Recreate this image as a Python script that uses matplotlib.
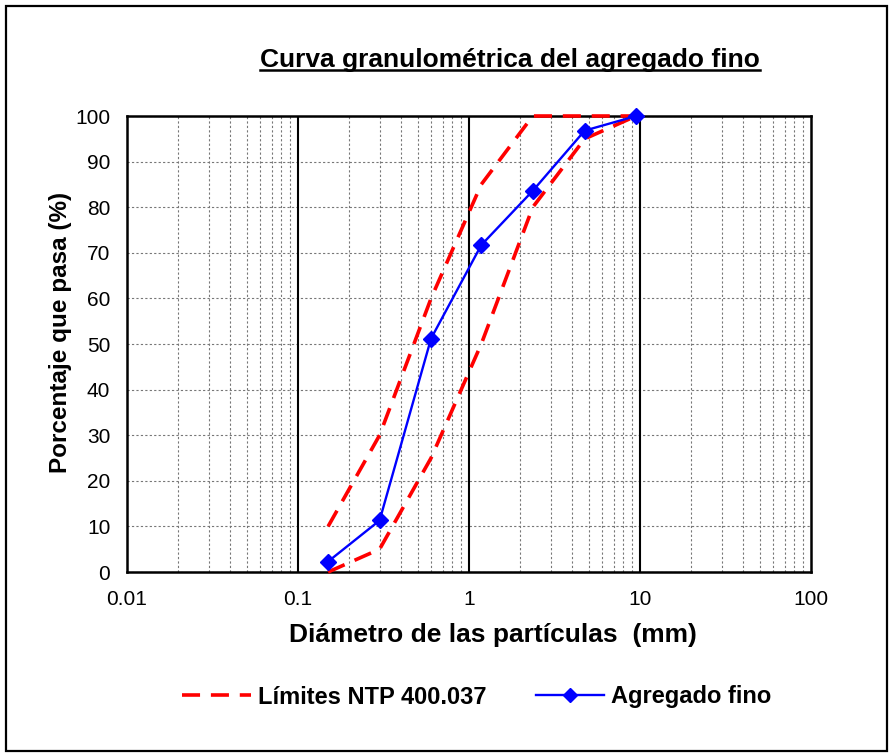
import matplotlib
matplotlib.use("Agg")
import matplotlib.pyplot as plt
from matplotlib.ticker import FixedLocator, LogLocator, NullFormatter
import numpy as np

plt.rcParams["font.family"] = ["Liberation Sans", "DejaVu Sans"]

# ---------- data ----------
sieve_mm = [0.15, 0.3, 0.6, 1.18, 2.36, 4.75, 9.5]
limite_inf = [0, 5, 25, 50, 80, 95, 100]
limite_sup = [10, 30, 60, 85, 100, 100, 100]
agregado = [2.3, 11.3, 51.2, 71.7, 83.6, 96.8, 100]

x_ticks = [0.01, 0.1, 1, 10, 100]
x_ticklabels = ["0.01", "0.1", "1", "10", "100"]
y_ticks = list(range(0, 101, 10))

RED = "#FF0000"; BLUE = "#0000FF"

fig = plt.figure(figsize=(8.91, 7.53), dpi=100)
ax = fig.add_axes([127/891, 1 - 572/753, (811-127)/891, (572-116)/753])

ax.set_xscale("log")
ax.set_xlim(0.01, 100)
ax.set_ylim(0, 100)

# grid: minor verticals + horizontal dashed gray, decades solid black
ax.xaxis.set_minor_locator(LogLocator(base=10, subs=np.arange(2, 10)))
ax.xaxis.set_minor_formatter(NullFormatter())
ax.grid(which="minor", axis="x", color="#777777", linestyle=(0, (2, 2)), linewidth=0.8)
ax.grid(which="major", axis="y", color="#777777", linestyle=(0, (2, 2)), linewidth=0.8)
for xv in x_ticks[1:-1]:
    ax.axvline(xv, color="black", linewidth=1.5, zorder=1)
ax.set_axisbelow(True)

l1, = ax.plot(sieve_mm, limite_sup, color=RED, linestyle=(0, (5, 3)), linewidth=2.6,
              label="Límites NTP 400.037", zorder=3, clip_on=False)
ax.plot(sieve_mm, limite_inf, color=RED, linestyle=(0, (5, 3)), linewidth=2.6, zorder=3,
        clip_on=False)
l2, = ax.plot(sieve_mm, agregado, color=BLUE, linewidth=1.7, marker="D", markersize=8.5,
              label="Agregado fino", zorder=4, clip_on=False)

ax.xaxis.set_major_locator(FixedLocator(x_ticks))
ax.set_xticklabels(x_ticklabels)
ax.set_yticks(y_ticks)
ax.tick_params(axis="both", which="both", length=0, labelsize=15)
ax.tick_params(axis="y", pad=12)
ax.tick_params(axis="x", pad=13)
for s in ax.spines.values():
    s.set_linewidth(1.8)

ax.set_xlabel("Diámetro de las partículas  (mm)", fontsize=19, fontweight="bold")
ax.xaxis.set_label_coords((493 - 127) / 684, -0.112)
ax.set_ylabel("Porcentaje que pasa (%)", fontsize=17.5, fontweight="bold")
ax.yaxis.set_label_coords(-0.08, 0.526)

# title with underline
title = fig.text(510/891, 1 - 60/753, "Curva granulométrica del agregado fino",
                 ha="center", va="center", fontsize=19, fontweight="bold")
fig.canvas.draw()
bb = title.get_window_extent(renderer=fig.canvas.get_renderer())
bb = bb.transformed(fig.transFigure.inverted())
fig.add_artist(plt.Line2D([bb.x0, bb.x1], [bb.y0 + 0.002, bb.y0 + 0.002],
                          transform=fig.transFigure, color="black", linewidth=1.8))

leg = fig.legend(handles=[l1, l2], loc="center", bbox_to_anchor=(477/891, 1 - 697/753),
                 ncol=2, frameon=False, handlelength=2.9, columnspacing=2.1,
                 prop={"size": 17, "weight": "bold"}, handletextpad=0.3)
for h in leg.legend_handles:
    if h.get_marker() == "D":
        h.set_markersize(7)

# outer frame
fig.add_artist(plt.Rectangle((6/891, 0.002), 881/891, 1 - 6/753 - 0.002, fill=False,
                             edgecolor="black", linewidth=1.6, transform=fig.transFigure))

fig.savefig("out.png", dpi=100, facecolor="white")
